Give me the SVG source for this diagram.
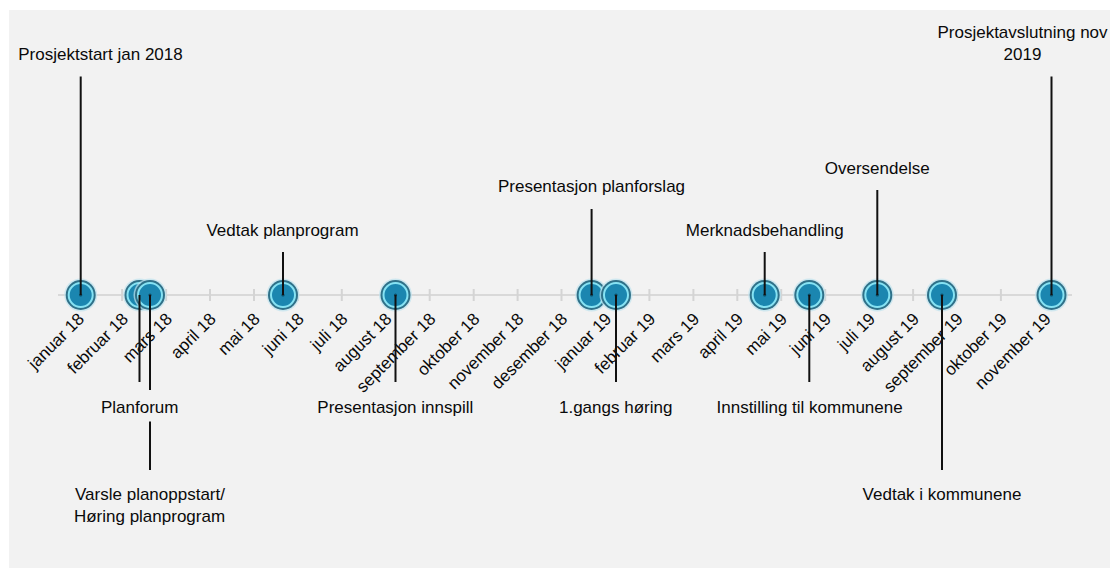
<svg xmlns="http://www.w3.org/2000/svg" width="1112" height="572" viewBox="0 0 1112 572">
<defs>
<style>
text{font-family:"Liberation Sans",Arial,sans-serif;font-size:17px;fill:#0a0a0a}
.lbl{text-anchor:middle}
.mon{text-anchor:end}
.stem{stroke:#111;stroke-width:2;fill:none}
.tick{stroke:#d4d4d4;stroke-width:2}
</style>
<g id="dot">
<circle r="16.5" fill="#bfe3ee" opacity="0.7"/>
<circle r="15" fill="#2f7189"/>
<circle r="12" fill="#1b86b0" stroke="#86e2f3" stroke-width="2"/>
<circle r="1.6" fill="#0c4a62"/>
</g>
</defs>
<rect x="9" y="10" width="1101" height="558" fill="#f2f2f2"/>
<g id="axis">
<line x1="58" y1="295" x2="1072" y2="295" stroke="#d9d9d9" stroke-width="2"/>
<g class="tick">
<line x1="78.2" y1="289" x2="78.2" y2="301"/><line x1="122.1" y1="289" x2="122.1" y2="301"/><line x1="166.1" y1="289" x2="166.1" y2="301"/><line x1="210" y1="289" x2="210" y2="301"/><line x1="254" y1="289" x2="254" y2="301"/><line x1="297.9" y1="289" x2="297.9" y2="301"/><line x1="341.8" y1="289" x2="341.8" y2="301"/><line x1="385.8" y1="289" x2="385.8" y2="301"/><line x1="429.7" y1="289" x2="429.7" y2="301"/><line x1="473.7" y1="289" x2="473.7" y2="301"/><line x1="517.6" y1="289" x2="517.6" y2="301"/><line x1="561.5" y1="289" x2="561.5" y2="301"/><line x1="605.5" y1="289" x2="605.5" y2="301"/><line x1="649.4" y1="289" x2="649.4" y2="301"/><line x1="693.4" y1="289" x2="693.4" y2="301"/><line x1="737.3" y1="289" x2="737.3" y2="301"/><line x1="781.2" y1="289" x2="781.2" y2="301"/><line x1="825.2" y1="289" x2="825.2" y2="301"/><line x1="869.1" y1="289" x2="869.1" y2="301"/><line x1="913.1" y1="289" x2="913.1" y2="301"/><line x1="957" y1="289" x2="957" y2="301"/><line x1="1000.9" y1="289" x2="1000.9" y2="301"/><line x1="1044.9" y1="289" x2="1044.9" y2="301"/>
</g>
<g id="months">
<text class="mon" transform="translate(85.2,320) rotate(-45)">januar 18</text>
<text class="mon" transform="translate(129.1,320) rotate(-45)">februar 18</text>
<text class="mon" transform="translate(173.1,320) rotate(-45)">mars 18</text>
<text class="mon" transform="translate(217,320) rotate(-45)">april 18</text>
<text class="mon" transform="translate(261,320) rotate(-45)">mai 18</text>
<text class="mon" transform="translate(304.9,320) rotate(-45)">juni 18</text>
<text class="mon" transform="translate(348.8,320) rotate(-45)">juli 18</text>
<text class="mon" transform="translate(392.8,320) rotate(-45)">august 18</text>
<text class="mon" transform="translate(436.7,320) rotate(-45)">september 18</text>
<text class="mon" transform="translate(480.7,320) rotate(-45)">oktober 18</text>
<text class="mon" transform="translate(524.6,320) rotate(-45)">november 18</text>
<text class="mon" transform="translate(568.5,320) rotate(-45)">desember 18</text>
<text class="mon" transform="translate(612.5,320) rotate(-45)">januar 19</text>
<text class="mon" transform="translate(656.4,320) rotate(-45)">februar 19</text>
<text class="mon" transform="translate(700.4,320) rotate(-45)">mars 19</text>
<text class="mon" transform="translate(744.3,320) rotate(-45)">april 19</text>
<text class="mon" transform="translate(788.2,320) rotate(-45)">mai 19</text>
<text class="mon" transform="translate(832.2,320) rotate(-45)">juni 19</text>
<text class="mon" transform="translate(876.1,320) rotate(-45)">juli 19</text>
<text class="mon" transform="translate(920.1,320) rotate(-45)">august 19</text>
<text class="mon" transform="translate(964,320) rotate(-45)">september 19</text>
<text class="mon" transform="translate(1007.9,320) rotate(-45)">oktober 19</text>
<text class="mon" transform="translate(1051.9,320) rotate(-45)">november 19</text>
</g>
</g>
<g id="markers">
<use href="#dot" x="80.7" y="295"/>
<use href="#dot" x="139.5" y="295"/>
<use href="#dot" x="150" y="295"/>
<use href="#dot" x="283" y="295"/>
<use href="#dot" x="395.5" y="295"/>
<use href="#dot" x="591.6" y="295"/>
<use href="#dot" x="616" y="295"/>
<use href="#dot" x="764.7" y="295"/>
<use href="#dot" x="809.3" y="295"/>
<use href="#dot" x="877.3" y="295"/>
<use href="#dot" x="942" y="295"/>
<use href="#dot" x="1051.5" y="295"/>
</g>
<g id="connectors" class="stem">
<line x1="80.7" y1="295" x2="80.7" y2="76.5"/>
<line x1="139.5" y1="295" x2="139.5" y2="382"/>
<line x1="150" y1="295" x2="150" y2="390"/>
<line x1="150" y1="421.5" x2="150" y2="470"/>
<line x1="283" y1="295" x2="283" y2="252"/>
<line x1="395.5" y1="295" x2="395.5" y2="382"/>
<line x1="591.6" y1="295" x2="591.6" y2="209"/>
<line x1="616" y1="295" x2="616" y2="382"/>
<line x1="764.7" y1="295" x2="764.7" y2="252"/>
<line x1="809.3" y1="295" x2="809.3" y2="382"/>
<line x1="877.3" y1="295" x2="877.3" y2="190"/>
<line x1="942" y1="295" x2="942" y2="470"/>
<line x1="1051.5" y1="295" x2="1051.5" y2="76.5"/>
</g>
<g id="n-prosjektstart"><text class="lbl" x="100.5" y="60">Prosjektstart jan 2018</text></g>
<g id="n-planforum"><text class="lbl" x="139.7" y="412.5">Planforum</text></g>
<g id="n-varsle"><text class="lbl" x="150" y="500">Varsle planoppstart/</text><text class="lbl" x="149.5" y="522">Høring planprogram</text></g>
<g id="n-vedtak-planprogram"><text class="lbl" x="282.5" y="235.5">Vedtak planprogram</text></g>
<g id="n-innspill"><text class="lbl" x="395.3" y="412.5">Presentasjon innspill</text></g>
<g id="n-planforslag"><text class="lbl" x="591.5" y="191.5">Presentasjon planforslag</text></g>
<g id="n-hoering"><text class="lbl" x="615.7" y="412.5">1.gangs høring</text></g>
<g id="n-merknad"><text class="lbl" x="764.7" y="235.5">Merknadsbehandling</text></g>
<g id="n-innstilling"><text class="lbl" x="809.6" y="412.5">Innstilling til kommunene</text></g>
<g id="n-oversendelse"><text class="lbl" x="877.2" y="173.5">Oversendelse</text></g>
<g id="n-vedtak-kommunene"><text class="lbl" x="942" y="500">Vedtak i kommunene</text></g>
<g id="n-avslutning"><text class="lbl" x="1022.5" y="37.5">Prosjektavslutning nov</text><text class="lbl" x="1022.5" y="60">2019</text></g>
</svg>
